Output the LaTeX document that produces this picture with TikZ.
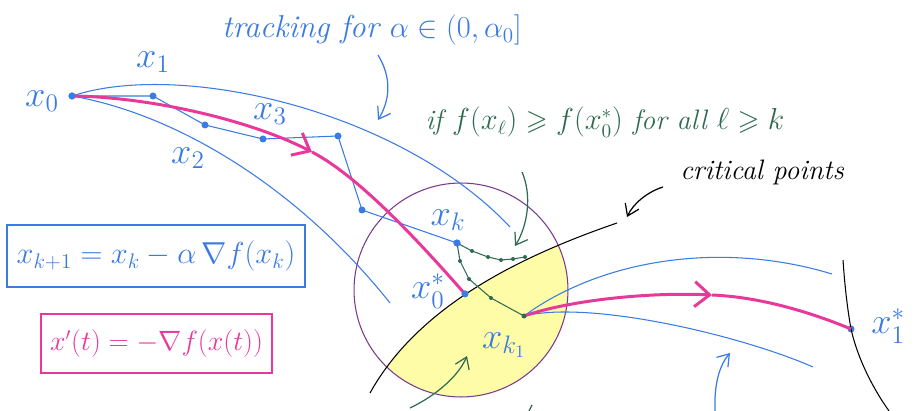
\documentclass[tikz,border=0pt]{standalone}
\usepackage{amsmath,amssymb}
\usepackage{tikz}
\usepackage{xcolor}
\usepackage{graphicx}
\usetikzlibrary{arrows.meta, positioning}
\definecolor{penblue}{RGB}{58,123,228}
\definecolor{penpink}{RGB}{232,57,155}
\definecolor{pengreen}{RGB}{46,107,80}
\definecolor{penpurple}{RGB}{122,58,140}
\definecolor{highlight}{RGB}{255,252,168}
\tikzstyle{bdot} = [circle, fill=penblue, inner sep=0pt, minimum size=0.14cm]
\tikzstyle{gdot} = [circle, fill=pengreen, inner sep=0pt, minimum size=0.08cm]
\tikzstyle{lbl} = [penblue, inner sep=0pt, font=\fontsize{20}{22}\selectfont]
\tikzstyle{sketch} = [penblue, line width=0.6pt]
\tikzstyle{flow} = [penpink, line width=1.7pt]
\tikzstyle{hint} = [line width=0.7pt, -{Straight Barb[length=0.22cm, width=0.3cm]}]
\tikzstyle{chev} = [-{Straight Barb[length=0.3cm, width=0.5cm]}]
\tikzstyle{eqbox} = [draw, line width=0.8pt, inner sep=0pt]

\begin{document}
\begin{tikzpicture}[x=0.02cm, y=-0.02cm]
        \useasboundingbox (0,0) rectangle (918,411);
        \fill[white] (0,0) rectangle (918,411);

        % points of the iteration
        \node[bdot] (x0) at (72,96) {};
        \node[bdot] (p1) at (153,96) {};
        \node[bdot] (p2) at (205,125) {};
        \node[bdot] (p3) at (263,139) {};
        \node[bdot] (p4) at (338,136) {};
        \node[bdot] (p5) at (362,210) {};
        \node[bdot] (xk) at (457,243) {};
        \node[bdot] (x0s) at (465,294) {};
        \node[bdot] (x1s) at (851,329) {};
        \coordinate (xk1) at (524,316);
        \coordinate (a1) at (312,152);
        \coordinate (a2) at (712,295);
        \coordinate (c1) at (370,393);
        \coordinate (c2) at (617,223);
        \coordinate (d1) at (843,260);
        \coordinate (d2) at (889,411);

        % region past the critical points
        \begin{scope}
            \clip (c1) .. controls (420,303) and (527,254) .. (c2) -- (617,420) -- (370,420) -- cycle;
            \fill[highlight] (461,290) circle[radius=2.14cm];
        \end{scope}
        \draw[penpurple, line width=0.6pt] (461,290) circle[radius=2.14cm];

        \draw[sketch] (x0.center) .. controls (180,60) and (400,110) .. (510,227);
        \draw[sketch] (x0.center) .. controls (180,115) and (300,190) .. (390,303);
        \draw[sketch] (xk1) .. controls (600,260) and (720,240) .. (832,274);
        \draw[sketch] (xk1) .. controls (590,300) and (740,335) .. (813,367);
        \draw[sketch] (x0.center) -- (p1.center) -- (p2.center) -- (p3.center) -- (p4.center) -- (p5.center) -- (xk.center);

        \draw[line width=0.6pt] (c1) .. controls (420,303) and (527,254) .. (c2);
        \draw[line width=0.6pt] (d1) .. controls (845,290) and (848,312) .. (x1s.center) .. controls (858,360) and (874,390) .. (d2);

        \draw[flow, chev] (x0.center) .. controls (150,97) and (250,120) .. (a1);
        \draw[flow] (a1) .. controls (362,178) and (428,252) .. (x0s.center);
        \draw[flow, chev] (xk1) .. controls (570,300) and (650,292) .. (a2);
        \draw[flow] (a2) .. controls (760,297) and (810,312) .. (x1s.center);

        % the two runs that stay above f(x_0^*)
        \node[gdot] (g1) at (472,251) {};
        \node[gdot] (g2) at (488,257) {};
        \node[gdot] (g3) at (501,260) {};
        \node[gdot] (g4) at (513,259) {};
        \node[gdot] (g5) at (525,257) {};
        \node[gdot] (h1) at (460,261) {};
        \node[gdot] (h2) at (469,279) {};
        \node[gdot] (h3) at (491,298) {};
        \node[gdot, minimum size=0.1cm] (h4) at (xk1) {};
        \draw[pengreen, line width=0.6pt] (xk.center) -- (g1.center) -- (g2.center) -- (g3.center) -- (g4.center) -- (g5.center);
        \draw[pengreen, line width=0.6pt] (xk.center) -- (h1.center) -- (h2.center) -- (h3.center) -- (h4.center);
        \node[bdot] at (xk) {};
        \node[bdot] at (x0) {};
        \node[bdot] at (x0s) {};

        \node[lbl] (lx0) at (42,101) {$x_0$};
        \node[lbl] (lx1) at (153,62) {$x_1$};
        \node[lbl] (lx2) at (188,158) {$x_2$};
        \node[lbl] (lx3) at (270,114) {$x_3$};
        \node[lbl] (lxk) at (448,220) {$x_k$};
        \node[lbl] (lx0s) at (428,291) {$x_0^*$};
        \node[lbl] (lxk1) at (504,345) {$x_{k_1}$};
        \node[lbl, anchor=west] (lx1s) at (871,326) {$x_1^*$};

        \node[penblue, font=\fontsize{18}{21}\selectfont] (track) at (372,30) {\itshape tracking for $\alpha\in(0,\alpha_0]$};
        \node[pengreen, font=\fontsize{16}{19}\selectfont] (cond) at (605,122) {\itshape if $f(x_\ell)\geqslant f(x_0^*)$ for all $\ell\geqslant k$};
        \node[font=\fontsize{16}{19}\selectfont] (crit) at (762,172) {\itshape critical points};

        \coordinate (t0) at (378,55);
        \coordinate (t1) at (378,120);
        \coordinate (s0) at (522,172);
        \coordinate (s1) at (515,246);
        \coordinate (k0) at (663,187);
        \coordinate (k1) at (627,217);
        \coordinate (b0) at (410,408);
        \coordinate (b1) at (467,356);
        \coordinate (e0) at (715,411);
        \coordinate (e1) at (730,353);
        \draw[hint, penblue] (t0) .. controls (392,78) and (390,100) .. (t1);
        \draw[hint, pengreen] (s0) .. controls (532,195) and (528,225) .. (s1);
        \draw[hint] (k0) .. controls (647,192) and (633,204) .. (k1);
        \draw[hint, pengreen] (b0) .. controls (435,396) and (458,377) .. (b1);
        \draw[hint, penblue] (e0) .. controls (714,385) and (719,366) .. (e1);
        \draw[pengreen, line width=0.7pt] (529,411) -- (532,405);

        \node[eqbox, draw=penblue, penblue, font=\fontsize{17}{20}\selectfont, minimum width=5.96cm, minimum height=1.24cm] (upd) at (156,256) {$x_{k+1} = x_k - \alpha\,\nabla f(x_k)$};
        \node[eqbox, draw=penpink, penpink, font=\fontsize{16}{19}\selectfont, minimum width=4.62cm, minimum height=1.18cm] (ode) at (156.5,343.5) {\scalebox{0.92}{$x'(t) = -\nabla f(x(t))$}};
    \end{tikzpicture}
\end{document}
